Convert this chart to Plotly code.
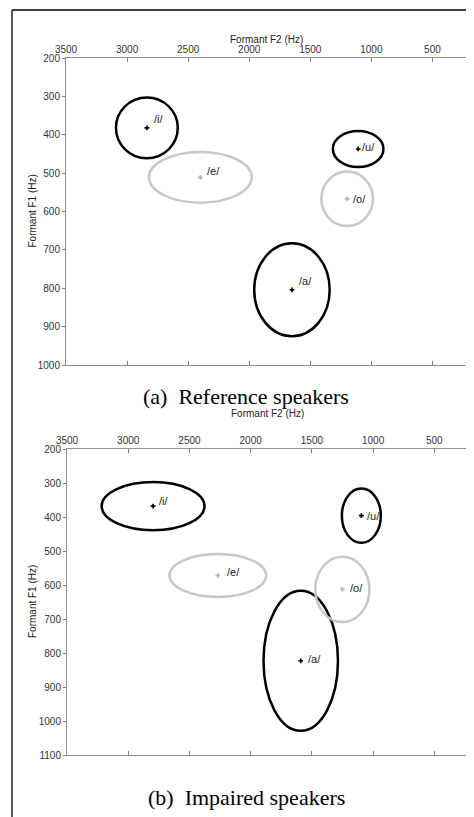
import plotly.graph_objects as go

# ---------------- data ----------------
vowels = ["/i/", "/e/", "/a/", "/o/", "/u/"]
vowel_group = ["dark", "light", "dark", "light", "dark"]

# (a) Reference speakers: mean F2, F1 and ellipse half-widths (Hz)
ref_f2 = [2838, 2400, 1650, 1198, 1108]
ref_f1 = [382, 511, 804, 567, 437]
ref_f2_spread = [253, 421, 309, 211, 207]
ref_f1_spread = [79, 66, 121, 71, 47]

# (b) Impaired speakers
imp_f2 = [2797, 2268, 1591, 1251, 1096]
imp_f1 = [368, 572, 823, 613, 396]
imp_f2_spread = [420, 395, 304, 221, 159]
imp_f1_spread = [71, 63, 206, 96, 80]

f2_ticks = [3500, 3000, 2500, 2000, 1500, 1000, 500]
ref_f1_ticks = [200, 300, 400, 500, 600, 700, 800, 900, 1000]
imp_f1_ticks = [200, 300, 400, 500, 600, 700, 800, 900, 1000, 1100]

captions = ["(a)  Reference speakers", "(b)  Impaired speakers"]
x_title = "Formant F2 (Hz)"
y_title = "Formant F1 (Hz)"

# ---------------- styles ----------------
OFF = 8                      # page body margin of the browser
W, H = 474 - OFF, 817 - OFF
line_col = {"dark": "#000000", "light": "#c8c8c8"}
mark_col = {"dark": "#000000", "light": "#b4b4b4"}
# label pixel offsets per vowel (x, y) for each panel
ref_label_shift = [(5, 9), (5, 6), (5, 9), (4, 0), (2, 2)]
imp_label_shift = [(4, 5), (7, 3), (5, 2), (6, 1), (4, 0)]

def px_x(p):
    return (p - OFF) / W

def px_y(p):
    return 1 - (p - OFF) / H

panels = [
    dict(f2=ref_f2, f1=ref_f1, s2=ref_f2_spread, s1=ref_f1_spread,
         ticks=ref_f1_ticks, yr=[1000, 200], xdom=[66, 466], ydom=[58, 365],
         shift=ref_label_shift, cap_y=396, xt_y=39),
    dict(f2=imp_f2, f1=imp_f1, s2=imp_f2_spread, s1=imp_f1_spread,
         ticks=imp_f1_ticks, yr=[1100, 200], xdom=[67, 468], ydom=[449, 755],
         shift=imp_label_shift, cap_y=797, xt_y=413),
]

fig = go.Figure()
shapes = []
annotations = []
axis_font = dict(family="Arial, Liberation Sans, sans-serif", size=10, color="#333333")

for k, p in enumerate(panels):
    n = "" if k == 0 else str(k + 1)
    xa, ya = "x" + n, "y" + n
    for g in ["dark", "light"]:
        idx = [i for i, v in enumerate(vowel_group) if v == g]
        fig.add_trace(go.Scatter(
            x=[p["f2"][i] for i in idx], y=[p["f1"][i] for i in idx],
            mode="markers", xaxis=xa, yaxis=ya, showlegend=False,
            marker=dict(symbol="cross", size=4, color=mark_col[g]),
            hoverinfo="skip"))
    for i, v in enumerate(vowels):
        g = vowel_group[i]
        shapes.append(dict(
            type="circle", xref=xa, yref=ya,
            x0=p["f2"][i] - p["s2"][i], x1=p["f2"][i] + p["s2"][i],
            y0=p["f1"][i] - p["s1"][i], y1=p["f1"][i] + p["s1"][i],
            line=dict(color=line_col[g], width=2.5), layer="below"))
        annotations.append(dict(
            x=p["f2"][i], y=p["f1"][i], xref=xa, yref=ya, text=v,
            showarrow=False, xanchor="left", yanchor="middle",
            xshift=p["shift"][i][0], yshift=p["shift"][i][1],
            font=dict(family="Arial, Liberation Sans, sans-serif", size=11, color="#222222")))
    xdom = [px_x(p["xdom"][0]), px_x(p["xdom"][1])]
    ydom = [px_y(p["ydom"][1]), px_y(p["ydom"][0])]
    fig.layout["xaxis" + n] = dict(
        domain=xdom, anchor=ya, side="top", range=[3500, 225], automargin=False,
        tickvals=f2_ticks, ticks="inside", ticklen=4, tickcolor="#808080",
        showline=True, linecolor="#909090", linewidth=1, mirror="ticks",
        showgrid=False, zeroline=False, tickfont=axis_font)
    fig.layout["yaxis" + n] = dict(
        domain=ydom, anchor=xa, range=p["yr"], automargin=False,
        tickvals=p["ticks"], ticks="outside", ticklen=3, tickcolor="#808080",
        showline=True, linecolor="#909090", linewidth=1, mirror="ticks",
        showgrid=False, zeroline=False, tickfont=axis_font)
    # axis titles
    annotations.append(dict(
        x=px_x((p["xdom"][0] + p["xdom"][1]) / 2), y=px_y(p["xt_y"]),
        xref="paper", yref="paper", text=x_title, showarrow=False,
        xanchor="center", yanchor="middle",
        font=dict(family="Arial, Liberation Sans, sans-serif", size=10, color="#222222")))
    annotations.append(dict(
        x=px_x(32), y=px_y((p["ydom"][0] + p["ydom"][1]) / 2),
        xref="paper", yref="paper", text=y_title, showarrow=False, textangle=-90,
        xanchor="center", yanchor="middle",
        font=dict(family="Arial, Liberation Sans, sans-serif", size=10, color="#222222")))
    # caption
    annotations.append(dict(
        x=px_x(246), y=px_y(p["cap_y"]), xref="paper", yref="paper",
        text=captions[k], showarrow=False, xanchor="center", yanchor="middle",
        font=dict(family="Liberation Serif, Times New Roman, serif", size=22, color="#000000")))

# page frame
shapes.append(dict(type="line", xref="paper", yref="paper",
                   x0=px_x(12), x1=px_x(12), y0=px_y(10), y1=0,
                   line=dict(color="#000000", width=1.3)))
shapes.append(dict(type="line", xref="paper", yref="paper",
                   x0=px_x(12), x1=1, y0=px_y(10), y1=px_y(10),
                   line=dict(color="#000000", width=1.3)))

fig.update_layout(
    width=W, height=H, margin=dict(l=0, r=0, t=0, b=0, autoexpand=False),
    paper_bgcolor="white", plot_bgcolor="white",
    shapes=shapes, annotations=annotations, showlegend=False)

fig.write_html("out.html")
